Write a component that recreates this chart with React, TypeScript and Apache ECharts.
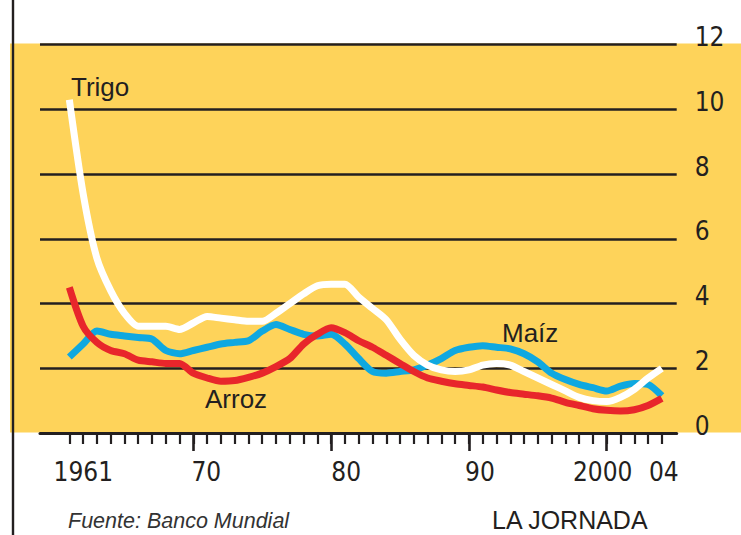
import React, { useEffect, useRef } from "react";
import * as echarts from "echarts";

const years = [
  1961, 1962, 1963, 1964, 1965, 1966, 1967, 1968, 1969, 1970,
  1971, 1972, 1973, 1974, 1975, 1976, 1977, 1978, 1979, 1980,
  1981, 1982, 1983, 1984, 1985, 1986, 1987, 1988, 1989, 1990,
  1991, 1992, 1993, 1994, 1995, 1996, 1997, 1998, 1999, 2000,
  2001, 2002, 2003, 2004,
];

const trigo = [
  10.3, 7.4, 5.4, 4.4, 3.7, 3.3, 3.3, 3.3, 3.2, 3.4,
  3.6, 3.55, 3.5, 3.45, 3.45, 3.7, 4.0, 4.3, 4.55, 4.6,
  4.6, 4.2, 3.85, 3.5, 2.9, 2.4, 2.1, 1.95, 1.9, 1.95,
  2.1, 2.15, 2.1, 1.9, 1.7, 1.5, 1.3, 1.1, 1.0, 0.97,
  1.1, 1.35, 1.7, 2.0,
];

const arroz = [
  4.5, 3.3, 2.8, 2.55, 2.45, 2.25, 2.2, 2.15, 2.15, 1.85,
  1.7, 1.6, 1.62, 1.72, 1.85, 2.05, 2.3, 2.75, 3.05, 3.25,
  3.1, 2.85, 2.65, 2.4, 2.15, 1.9, 1.7, 1.6, 1.52, 1.47,
  1.42, 1.33, 1.25, 1.2, 1.15, 1.08, 0.95, 0.85, 0.75, 0.7,
  0.68, 0.72, 0.85, 1.07,
];

const maiz = [
  2.35, 2.75, 3.15, 3.05, 3.0, 2.95, 2.9, 2.55, 2.45, 2.55,
  2.65, 2.75, 2.8, 2.85, 3.15, 3.35, 3.2, 3.05, 3.0, 3.05,
  2.75, 2.3, 1.9, 1.85, 1.9, 1.95, 2.1, 2.3, 2.55, 2.65,
  2.7, 2.65, 2.6, 2.45, 2.2, 1.85, 1.65, 1.5, 1.4, 1.3,
  1.45, 1.53, 1.5, 1.15,
];

const longTickYears = [1970, 1980, 1990, 2000];
const labelYears = [1961, 1970, 1980, 1990, 2000, 2004];
const labelTexts: Record<number, string> = {
  1961: "1961",
  1970: "70",
  1980: "80",
  1990: "90",
  2000: "2000",
  2004: "04",
};
const labelStyleKey: Record<number, string> = {
  1961: "a",
  1970: "b",
  1980: "c",
  1990: "d",
  2000: "e",
  2004: "f",
};

const seriesNames = { trigo: "Trigo", arroz: "Arroz", maiz: "Maíz" };
const sourceText = "Fuente: Banco Mundial";
const brandText = "LA JORNADA";

const INK = "#231F20";
const YELLOW = "#FED35A";
const RED = "#E8262B";
const BLUE = "#0FA8E0";
const WHITE = "#FFFFFF";
const NARROW = "'Liberation Sans Narrow', 'DejaVu Sans Condensed', 'Arial Narrow', 'Liberation Sans', sans-serif";
const SANS = "'Liberation Sans', Arial, Helvetica, sans-serif";

const pairs = (vals: number[]) => years.map((y, i) => [y, vals[i]]);

export default function App() {
  const ref = useRef<HTMLDivElement>(null);
  useEffect(() => {
    if (!ref.current) return;
    const chart = echarts.init(ref.current, undefined, { renderer: "svg" });
    const xMin = 1958.87;
    const xMax = 2005.08;
    const tickLabelBase = {
      fontFamily: NARROW,
      fontSize: 26,
      lineHeight: 26,
      color: INK,
    };
    chart.setOption({
      animation: false,
      backgroundColor: "#ffffff",
      grid: { left: 40, right: 64.3, top: 44.7, bottom: 102, containLabel: false },
      xAxis: [
        {
          type: "value",
          position: "bottom",
          min: xMin,
          max: xMax,
          axisLine: { show: true, lineStyle: { color: INK, width: 3 } },
          axisTick: {
            show: true,
            customValues: years,
            length: 11,
            lineStyle: { color: INK, width: 2.2 },
          },
          axisLabel: {
            show: true,
            customValues: labelYears,
            margin: 26,
            formatter: (v: number) => {
              const k = labelStyleKey[Math.round(v)];
              const t = labelTexts[Math.round(v)];
              return k ? `{${k}|${t}}` : "";
            },
            rich: {
              a: { ...tickLabelBase, padding: [0, 0, 0, 28] },
              b: { ...tickLabelBase, padding: [0, 0, 0, 26] },
              c: { ...tickLabelBase, padding: [0, 0, 0, 30] },
              d: { ...tickLabelBase, padding: [0, 0, 0, 22] },
              e: { ...tickLabelBase, padding: [0, 8, 0, 0] },
              f: { ...tickLabelBase, padding: [0, 0, 0, 4] },
            },
          },
          splitLine: { show: false },
        },
        {
          type: "value",
          position: "bottom",
          min: xMin,
          max: xMax,
          axisLine: { show: false },
          axisTick: {
            show: true,
            customValues: longTickYears,
            length: 18,
            lineStyle: { color: INK, width: 2.6 },
          },
          axisLabel: { show: false },
          splitLine: { show: false },
        },
      ],
      yAxis: {
        type: "value",
        position: "right",
        min: 0,
        max: 12,
        interval: 2,
        axisLine: { show: false },
        axisTick: { show: false },
        axisLabel: {
          margin: 18,
          fontFamily: NARROW,
          fontSize: 26,
          lineHeight: 15,
          color: INK,
          align: "left",
          verticalAlign: "bottom",
        },
        splitLine: { show: true, lineStyle: { color: INK, width: 2.5 } },
      },
      graphic: [
        {
          type: "rect",
          z: -10,
          silent: true,
          shape: { x: 10, y: 43.5, width: 731, height: 389 },
          style: { fill: YELLOW },
        },
        {
          type: "line",
          z: 100,
          silent: true,
          shape: { x1: 13, y1: 0, x2: 13, y2: 535 },
          style: { stroke: INK, lineWidth: 2.4 },
        },
        {
          type: "text",
          z: 100,
          left: 71,
          top: 74,
          style: { text: seriesNames.trigo, font: `26px ${SANS}`, fill: INK },
        },
        {
          type: "text",
          z: 100,
          left: 205,
          top: 386,
          style: { text: seriesNames.arroz, font: `26px ${SANS}`, fill: INK },
        },
        {
          type: "text",
          z: 100,
          left: 502,
          top: 320,
          style: { text: seriesNames.maiz, font: `26px ${SANS}`, fill: INK },
        },
        {
          type: "text",
          z: 100,
          left: 68,
          top: 510,
          style: { text: sourceText, font: `italic 21.5px ${SANS}`, fill: "#333333" },
        },
        {
          type: "text",
          z: 100,
          left: 492,
          top: 507,
          style: { text: brandText, font: `25px ${SANS}`, fill: INK },
        },
      ],
      series: [
        {
          name: seriesNames.maiz,
          type: "line",
          data: pairs(maiz),
          showSymbol: false,
          smooth: 0.25,
          lineStyle: { color: BLUE, width: 7, cap: "butt", join: "round" },
          z: 3,
        },
        {
          name: seriesNames.arroz,
          type: "line",
          data: pairs(arroz),
          showSymbol: false,
          smooth: 0.25,
          lineStyle: { color: RED, width: 7, cap: "butt", join: "round" },
          z: 4,
        },
        {
          name: seriesNames.trigo,
          type: "line",
          data: pairs(trigo),
          showSymbol: false,
          smooth: 0.25,
          lineStyle: { color: WHITE, width: 7, cap: "butt", join: "round" },
          z: 5,
        },
      ],
    });
    return () => chart.dispose();
  }, []);
  return (
    <div
      ref={ref}
      style={{ position: "fixed", left: 0, top: 0, width: 741, height: 535 }}
    />
  );
}
